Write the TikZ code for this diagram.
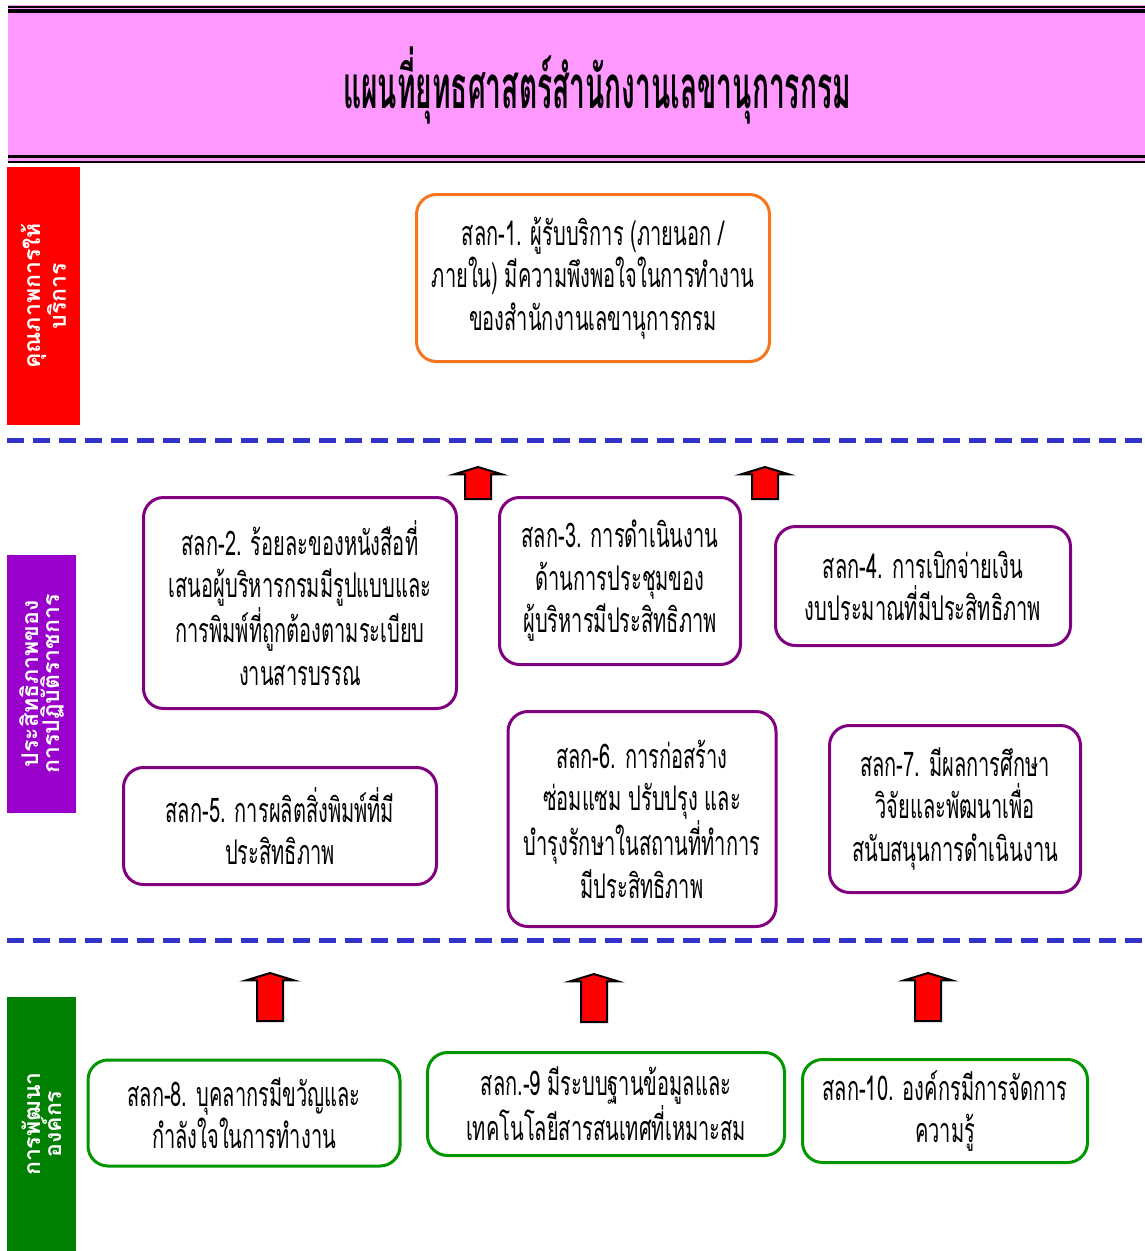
\documentclass[tikz,border=0pt]{standalone}
\usepackage{fontspec}
\newfontfamily\thaibox[Script=Thai,FakeStretch=0.59]{Loma}
\newfontfamily\thaititle[Script=Thai,FakeStretch=0.47]{Loma}
\newfontfamily\thaiside[Script=Thai]{Loma}
\usetikzlibrary{shapes.arrows}
\definecolor{titlepink}{RGB}{255,153,255}
\definecolor{barred}{RGB}{255,0,0}
\definecolor{barpurple}{RGB}{153,0,204}
\definecolor{bargreen}{RGB}{0,128,0}
\definecolor{lineorange}{RGB}{245,118,30}
\definecolor{linepurple}{RGB}{128,0,128}
\definecolor{linegreen}{RGB}{0,150,0}
\definecolor{dashblue}{RGB}{51,51,204}
\tikzset{
goalbox/.style={
  align=center,
  rounded corners=20pt,
  line width=3pt,
  fill=white,
  inner sep=0pt,
  font=\thaibox\fontsize{34}{42.5}\selectfont
  }
}
\tikzset{
sidebar/.style={
  align=center,
  rotate=90,
  inner sep=0pt,
  text=white,
  font=\thaiside\bfseries\fontsize{23}{21}\selectfont
  }
}
\tikzset{
uparrow/.style={
  single arrow,
  draw=black,
  fill=red,
  line width=2pt,
  shape border rotate=90,
  inner sep=12pt,
  minimum height=32pt,
  single arrow head extend=11pt,
  single arrow tip angle=146
  }
}
\tikzstyle{divider} = [draw=dashblue,line width=5pt,dash pattern=on 17pt off 9pt]

\begin{document}
\begin{tikzpicture}[x=1pt, y=-1pt]
	\useasboundingbox (0,0) rectangle (1145,1251);
	%title band
	\fill[titlepink] (8,5) rectangle (1145,163);
	\draw[line width=2pt] (8,6.5) -- (1145,6.5);
	\draw[line width=3.5pt] (8,11) -- (1145,11);
	\draw[line width=3.5pt] (8,156.5) -- (1145,156.5);
	\draw[line width=2pt] (8,161.5) -- (1145,161.5);
	\node (title) at (597,85) [font=\thaititle\bfseries\fontsize{60}{60}\selectfont] {แผนที่ยุทธศาสตร์สำนักงานเลขานุการกรม};

	%perspectives
	\node (pquality) at (43.5,296) [sidebar, fill=barred, minimum width=258pt, minimum height=73pt] {คุณภาพการให้\\บริการ};
	\node (pefficiency) at (41.5,684) [sidebar, fill=barpurple, minimum width=258pt, minimum height=69pt] {ประสิทธิภาพของ\\การปฏิบัติราชการ};
	\node (pgrowth) at (41.5,1124) [sidebar, fill=bargreen, minimum width=254pt, minimum height=69pt] {การพัฒนา\\องค์กร};

	%dividers
	\draw[divider] (7,440) -- (1145,440);
	\draw[divider] (7,940) -- (1145,940);

	%goals
	\node (g1) at (593,278) [goalbox, draw=lineorange, minimum width=353pt, minimum height=167pt] {สลก-1. ผู้รับบริการ (ภายนอก /\\ภายใน) มีความพึงพอใจในการทำงาน\\ของสำนักงานเลขานุการกรม};

	\node (g2) at (300,603) [goalbox, draw=linepurple, minimum width=313pt, minimum height=211pt] {สลก-2. ร้อยละของหนังสือที่\\เสนอผู้บริหารกรมมีรูปแบบและ\\การพิมพ์ที่ถูกต้องตามระเบียบ\\งานสารบรรณ};
	\node (g3) at (620,581) [goalbox, draw=linepurple, minimum width=241pt, minimum height=167pt] {สลก-3. การดำเนินงาน\\ด้านการประชุมของ\\ผู้บริหารมีประสิทธิภาพ};
	\node (g4) at (923,586) [goalbox, draw=linepurple, minimum width=295pt, minimum height=119pt] {สลก-4. การเบิกจ่ายเงิน\\งบประมาณที่มีประสิทธิภาพ};
	\node (g5) at (280,826) [goalbox, draw=linepurple, minimum width=313pt, minimum height=117pt] {สลก-5. การผลิตสิ่งพิมพ์ที่มี\\ประสิทธิภาพ};
	\node (g6) at (642,819) [goalbox, draw=linepurple, minimum width=268pt, minimum height=215pt] {สลก-6. การก่อสร้าง\\ซ่อมแซม ปรับปรุง และ\\บำรุงรักษาในสถานที่ทำการ\\มีประสิทธิภาพ};
	\node (g7) at (955,809) [goalbox, draw=linepurple, minimum width=251pt, minimum height=167pt] {สลก-7. มีผลการศึกษา\\วิจัยและพัฒนาเพื่อ\\สนับสนุนการดำเนินงาน};

	\node (g8) at (244,1113) [goalbox, draw=linegreen, minimum width=312pt, minimum height=106pt] {สลก-8. บุคลากรมีขวัญและ\\กำลังใจในการทำงาน};
	\node (g9) at (606,1104) [goalbox, draw=linegreen, minimum width=357pt, minimum height=103pt] {สลก.-9 มีระบบฐานข้อมูลและ\\เทคโนโลยีสารสนเทศที่เหมาะสม};
	\node (g10) at (945,1111) [goalbox, draw=linegreen, minimum width=285pt, minimum height=103pt] {สลก-10. องค์กรมีการจัดการ\\ความรู้};

	%arrows
	\node (up1) at (478,485) [uparrow] {};
	\node (up2) at (765,485) [uparrow] {};
	\node (up3) at (270,999) [uparrow, minimum height=48pt] {};
	\node (up4) at (594,1000) [uparrow, minimum height=48pt] {};
	\node (up5) at (928,999) [uparrow, minimum height=48pt] {};
\end{tikzpicture}
\end{document}
